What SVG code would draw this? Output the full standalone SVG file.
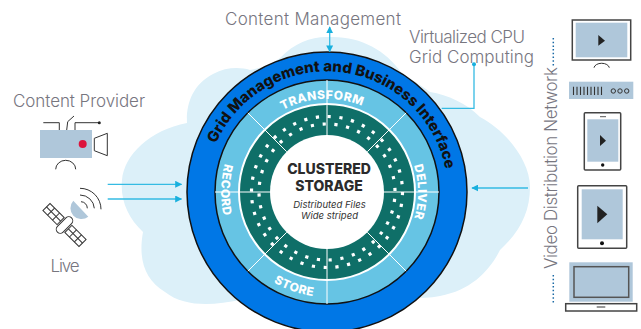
<svg xmlns="http://www.w3.org/2000/svg" width="641" height="329" viewBox="0 0 641 329">
<style>
.lbl{font-family:"Inter","Lato","Liberation Sans",sans-serif;font-weight:300;font-size:17px;fill:#77767f}
.ring{font-family:"Inter","Liberation Sans",sans-serif;font-weight:800;font-size:12px;fill:#fff;letter-spacing:.5px}
.ctr{font-family:"Inter","Liberation Sans",sans-serif;font-weight:800;font-size:14px;fill:#2b2b2b;text-anchor:middle}
.sub{font-family:"Inter","Liberation Sans",sans-serif;font-style:italic;font-size:9.5px;fill:#333;text-anchor:middle}
.ic{fill:none;stroke:#333;stroke-width:1}
.dev{fill:#fff;stroke:#444;stroke-width:1.5}
.scr{fill:#afc7da}
.play{fill:#222}
.div{stroke:#fff;stroke-width:1}
.dots{fill:none;stroke:#fff;stroke-width:3.2}
.cn{fill:none;stroke:#35bbe3;stroke-width:1.3}
</style>
<defs>
<marker id="ah" viewBox="0 0 10 10" refX="9" refY="5" markerWidth="7" markerHeight="7" markerUnits="userSpaceOnUse" orient="auto-start-reverse"><path d="M0 0L10 5L0 10Z" fill="#19b0de"/></marker>
<path id="pGrid" d="M216 143.700A121 121 0 0 1 446 213"/>
<path id="pTrans" d="M276.300 114A93 93 0 0 1 369.200 109.100"/>
<path id="pDel" d="M405.800 146.500A91 91 0 0 1 405.800 237.500"/>
<path id="pRec" d="M235.200 139A106 106 0 0 0 235.200 245"/>
<path id="pSto" d="M246.600 259.500A105 105 0 0 0 348.800 294.700"/>
</defs>
<rect width="641" height="329" fill="#fff"/>
<path id="cloud" fill="#dcf0f9" d="M187 123C186 105 192 85 213 74C226 67 240 67 250 70C262 68 272 64 280 58C295 42 313 36 330 37C360 36 385 50 401 72C412 80 422 86 430 92C448 95 466 103 480 117C505 130 530 160 530 187C530 212 520 232 500 250C490 270 472 290 440 296C420 300 400 296 385 300L240 300C215 305 185 308 165 292C145 280 138 260 143 232C128 218 120 200 122 180C124 155 150 130 187 123Z"/>
<g id="core">
<circle cx="327" cy="192" r="140" fill="#0077e6" stroke="#111" stroke-width="1.500"/>
<circle cx="327" cy="192" r="112" fill="#66c4e4" stroke="#111" stroke-width="1.500"/>
<circle cx="327" cy="192" r="88" fill="#0f6f68" stroke="#fff" stroke-width="2"/>
<circle class="dots" cx="327" cy="192" r="75.500" stroke-dasharray="3.200 8.660"/>
<circle class="dots" cx="327" cy="192" r="68" stroke-dasharray="3.200 8.670" stroke-dashoffset="5"/>
<path class="div" d="M327 80V135M327 249V304M215 192H270M384 192H439M247.800 112.800L286.700 151.700M367.300 232.300L406.200 271.200M406.200 112.800L367.300 151.700M286.700 232.300L247.800 271.200"/>
<circle cx="327" cy="192" r="57" fill="#fff"/>
<text style="font-family:'Inter','Liberation Sans',sans-serif;font-weight:800;font-size:15px;fill:#111"><textPath href="#pGrid">Grid Management and Business Interface</textPath></text>
<text class="ring" text-anchor="middle"><textPath href="#pTrans" startOffset="50%">TRANSFORM</textPath></text>
<text class="ring" text-anchor="middle"><textPath href="#pDel" startOffset="50%">DELIVER</textPath></text>
<text class="ring" text-anchor="middle"><textPath href="#pRec" startOffset="48%">RECORD</textPath></text>
<text class="ring" text-anchor="middle"><textPath href="#pSto" startOffset="50%">STORE</textPath></text>
<text class="ctr" x="329" y="173.500">CLUSTERED</text>
<text class="ctr" x="329" y="190.500">STORAGE</text>
<text class="sub" x="329.500" y="208">Distributed Files</text>
<text class="sub" x="329.500" y="219">Wide striped</text>
</g>
<g id="connectors">
<path class="cn" d="M107.700 184.300H181.500" marker-end="url(#ah)"/>
<path class="cn" d="M107.700 199H181.500" marker-end="url(#ah)"/>
<path class="cn" d="M528 188H472" marker-end="url(#ah)"/>
<path class="cn" d="M329.700 27V51.700" marker-start="url(#ah)" marker-end="url(#ah)"/>
<path class="cn" d="M474 64.300V108.300H441.700"/>
<circle cx="474" cy="64.300" r="2" fill="#19b0de"/>
</g>
<g id="content-management"><text class="lbl" x="225" y="25" textLength="176">Content Management</text></g>
<g id="virtualized-cpu"><text class="lbl" x="409" y="42.700" textLength="116">Virtualized CPU</text><text class="lbl" x="409" y="63.300" textLength="125">Grid Computing</text></g>
<g id="content-provider">
<text class="lbl" x="13" y="107" textLength="132">Content Provider</text>
<rect class="scr" x="40" y="130" width="52" height="28"/>
<circle cx="82.700" cy="144" r="4" fill="#dc143c"/>
<path class="ic" d="M94.300 138.300L107.300 133.300V155.700L94.300 150.700ZM43.300 122.700H59.300V130M66.700 130L67.700 121.700L74 116M75 130V122.700H99.300M55.700 169.300A10 9 0 0 1 75.700 169.300"/>
<circle cx="99.300" cy="122.700" r="1.500" fill="#222"/>
</g>
<g id="live">
<text class="lbl" x="50.500" y="272" textLength="29">Live</text>
<g transform="translate(64.500 225) rotate(45)" class="ic">
<rect x="-25.500" y="-5" width="20" height="10"/><path d="M-25.500 0H-5.500M-19 -5V5M-12 -5V5"/>
<rect x="-4" y="-10" width="8" height="20" rx="4"/>
<rect x="5.500" y="-5" width="20" height="10"/><path d="M5.500 0H25.500M12 -5V5M19 -5V5"/>
</g>
<path class="scr" d="M73.300 200.700A11 11 0 0 0 88.300 216.700Z"/>
<path class="ic" d="M80 188.300A21 21 0 0 1 101 209.300M80 195A14.500 14 0 0 1 94.300 208.300M81 201.700A6.500 6.500 0 0 1 87.300 208.300"/>
</g>
<g id="video-network">
<text class="lbl" transform="translate(557 269) rotate(-90)" textLength="202">Video Distribution Network</text>
<path d="M553.300 38V66M553.300 275V303" fill="none" stroke="#1b6aa5" stroke-width="1.500" stroke-dasharray="1.500 2.200"/>
</g>
<g id="monitor">
<rect class="dev" x="572.300" y="20" width="58.400" height="40"/>
<rect class="scr" x="575.700" y="22.700" width="51.600" height="34.600"/>
<path class="play" d="M598.300 35L605 40.700L598.300 45.700Z"/>
<path class="ic" d="M594 67.700A7.700 5 0 0 1 609.300 67.700"/>
</g>
<g id="settop">
<rect class="scr" x="569" y="81.700" width="64.300" height="17.300"/>
<path d="M573.500 86.700V95M577 86.700V95M580.500 86.700V95M584 86.700V95M587.500 86.700V95M591 86.700V95M594.500 86.700V95M598 86.700V95M601.500 86.700V95" stroke="#333" stroke-width="1.100"/>
<circle class="ic" cx="613.300" cy="91" r="2.200"/><circle class="ic" cx="620" cy="91" r="2.200"/><circle class="ic" cx="626.700" cy="91" r="2.200"/>
</g>
<g id="phone">
<rect class="dev" x="584.300" y="112.700" width="36.400" height="57.300" rx="1"/>
<rect class="scr" x="587.300" y="119.300" width="31" height="42.400"/>
<path d="M600 116.700H606" stroke="#555" stroke-width="1"/>
<path class="play" d="M600 135L606 140.700L600 146Z"/>
<circle cx="602.700" cy="165" r="1.700" fill="#111"/>
</g>
<g id="tablet">
<rect class="dev" x="577.700" y="185.700" width="49" height="62.600" rx="1"/>
<rect class="scr" x="581.700" y="189.300" width="41" height="50"/>
<path class="play" d="M597.300 205.700L607.300 214.300L597.300 223.300Z"/>
<circle cx="602" cy="243.300" r="2" fill="#111"/>
</g>
<g id="laptop">
<rect class="scr" x="569.300" y="262.300" width="63.400" height="39.400"/>
<rect x="574" y="266.700" width="54.700" height="30.600" fill="none" stroke="#555" stroke-width="1.500"/>
<rect class="dev" x="565.700" y="303.700" width="71" height="7.300"/>
<path d="M596.700 307H605.300" stroke="#555" stroke-width="1.200"/>
</g>
</svg>
